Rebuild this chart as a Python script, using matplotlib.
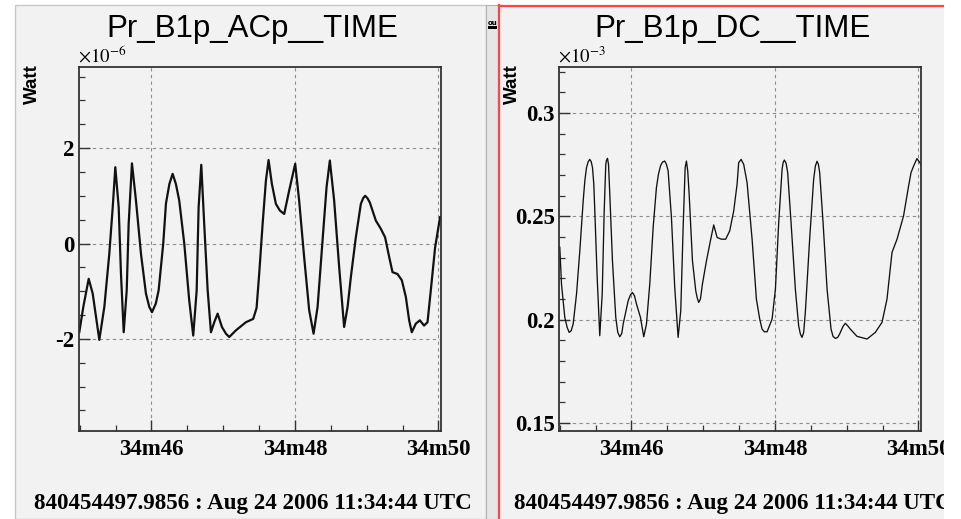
import matplotlib
matplotlib.use("Agg")
import matplotlib.pyplot as plt
from matplotlib.patches import Rectangle
from matplotlib.lines import Line2D
from matplotlib.ticker import MultipleLocator, FixedLocator, FuncFormatter

# ---------------- data ----------------
# Left: Pr_B1p_ACp__TIME (seconds after 11:34:00, Watt x1e-6)
ac_t = [44.994, 45.050, 45.125, 45.181, 45.273, 45.343, 45.412, 45.460, 45.496, 45.543,
        45.575, 45.613, 45.655, 45.682, 45.728, 45.784, 45.854, 45.923, 45.970, 46.007,
        46.060, 46.100, 46.164, 46.202, 46.250, 46.295, 46.340, 46.387, 46.457, 46.526,
        46.582, 46.630, 46.657, 46.694, 46.735, 46.783, 46.829, 46.875, 46.922, 46.982,
        47.038, 47.084, 47.177, 47.316, 47.418, 47.465, 47.501, 47.549, 47.595, 47.632,
        47.678, 47.734, 47.790, 47.850, 47.919, 48.003, 48.058, 48.128, 48.198, 48.259,
        48.315, 48.384, 48.440, 48.486, 48.546, 48.616, 48.685, 48.733, 48.779, 48.848,
        48.918, 48.950, 48.978, 49.010, 49.043, 49.127, 49.196, 49.256, 49.304, 49.359,
        49.429, 49.489, 49.545, 49.591, 49.628, 49.684, 49.740, 49.799, 49.847, 49.893,
        49.953, 50.022]
ac_w = [-1.86, -1.33, -0.74, -1.05, -2.02, -1.33, -0.22, 0.76, 1.60, 0.76,
        -0.64, -1.86, -0.98, 0.41, 1.68, 0.90, -0.22, -1.05, -1.33, -1.44,
        -1.26, -0.98, 0.00, 0.84, 1.25, 1.46, 1.25, 0.90, 0.00, -1.19,
        -1.93, -0.98, 0.76, 1.65, 0.41, -0.98, -1.86, -1.65, -1.47, -1.75,
        -1.89, -1.96, -1.82, -1.65, -1.58, -1.35, -0.64, 0.41, 1.32, 1.75,
        1.25, 0.83, 0.69, 0.62, 1.11, 1.67, 0.90, -0.29, -1.40, -1.89,
        -1.33, 0.06, 1.18, 1.74, 0.90, -0.50, -1.75, -1.33, -0.70, 0.13,
        0.83, 0.95, 1.00, 0.95, 0.86, 0.48, 0.31, 0.13, -0.22, -0.60,
        -0.64, -0.77, -1.12, -1.61, -1.86, -1.68, -1.61, -1.72, -1.65, -0.98,
        -0.08, 0.55]

# Right: Pr_B1p_DC__TIME (seconds after 11:34:00, Watt x1e-3)
dc_t = [45.001, 45.025, 45.071, 45.104, 45.132, 45.160, 45.188, 45.234, 45.280, 45.327,
        45.350, 45.373, 45.397, 45.419, 45.439, 45.457, 45.475, 45.489, 45.522, 45.558,
        45.592, 45.620, 45.642, 45.652, 45.666, 45.680, 45.698, 45.735, 45.781, 45.809,
        45.837, 45.865, 45.884, 45.954, 45.986, 46.014, 46.042, 46.070, 46.125, 46.171,
        46.209, 46.255, 46.302, 46.348, 46.376, 46.404, 46.432, 46.464, 46.487, 46.511,
        46.557, 46.603, 46.650, 46.687, 46.720, 46.748, 46.766, 46.784, 46.804, 46.850,
        46.896, 46.915, 46.937, 46.961, 46.989, 47.045, 47.100, 47.146, 47.194, 47.253,
        47.313, 47.369, 47.425, 47.472, 47.494, 47.528, 47.564, 47.611, 47.681, 47.741,
        47.787, 47.820, 47.852, 47.890, 47.960, 48.006, 48.052, 48.099, 48.113, 48.131,
        48.155, 48.177, 48.224, 48.284, 48.330, 48.354, 48.377, 48.400, 48.423, 48.483,
        48.539, 48.563, 48.586, 48.605, 48.623, 48.670, 48.726, 48.781, 48.809, 48.841,
        48.874, 48.901, 48.948, 48.981, 49.013, 49.050, 49.143, 49.283, 49.398, 49.492,
        49.561, 49.631, 49.701, 49.792, 49.862, 49.896, 49.932, 49.979, 50.035]
dc_w = [0.235, 0.217, 0.201, 0.1962, 0.1938, 0.1946, 0.198, 0.2123, 0.2332, 0.2574,
        0.2671, 0.2735, 0.2764, 0.2775, 0.2764, 0.2735, 0.2655, 0.2526, 0.2204, 0.1922,
        0.2123, 0.2526, 0.2751, 0.2771, 0.278, 0.2751, 0.2606, 0.2284, 0.2011, 0.1938,
        0.1917, 0.1933, 0.1978, 0.2091, 0.2120, 0.2131, 0.2115, 0.2075, 0.2011, 0.1917,
        0.1978, 0.2172, 0.2445, 0.2639, 0.2703, 0.2743, 0.2762, 0.2767, 0.2751, 0.2719,
        0.2494, 0.2155, 0.1914, 0.2043, 0.2445, 0.2735, 0.2767, 0.2719, 0.2606, 0.2284,
        0.2139, 0.2107, 0.2083, 0.2099, 0.2172, 0.2284, 0.2381, 0.2458, 0.2397, 0.2389,
        0.2389, 0.2429, 0.2526, 0.2655, 0.2759, 0.2775, 0.2751, 0.2663, 0.2389, 0.2099,
        0.2003, 0.1954, 0.1941, 0.1941, 0.2003, 0.2147, 0.247, 0.2727, 0.2759, 0.2772,
        0.2756, 0.2711, 0.247, 0.2147, 0.197, 0.1930, 0.1914, 0.1938, 0.2035, 0.2389,
        0.2679, 0.2743, 0.2766, 0.2751, 0.2711, 0.247, 0.2147, 0.1954, 0.1919, 0.1909,
        0.1914, 0.193, 0.1967, 0.1982, 0.1970, 0.1954, 0.1919, 0.1906, 0.1938, 0.1987,
        0.2099, 0.2325, 0.2389, 0.2502, 0.2646, 0.2711, 0.2743, 0.2779, 0.2751]

x_ticks = [46, 48, 50]
x_labels = ["34m46", "34m48", "34m50"]
titles = ["Pr_B1p_ACp__TIME", "Pr_B1p_DC__TIME"]
exponents = [r"$\times10^{-6}$", r"$\times10^{-3}$"]
stamp = "840454497.9856 : Aug 24 2006 11:34:44 UTC"

# ---------------- figure ----------------
plt.rcParams['mathtext.fontset'] = 'stix'
W, H = 962, 519
fig = plt.figure(figsize=(W / 100, H / 100), dpi=100)
fig.patch.set_facecolor('white')

def fx(px):
    return px / W

def fy(py):
    return 1 - py / H

panel_c = '#f2f2f2'
# left pad
fig.patches.append(Rectangle((fx(15), 0), fx(471), fy(5), transform=fig.transFigure,
                             facecolor=panel_c, edgecolor='#c8c8c8', lw=1, zorder=-5))
# separator strip
fig.patches.append(Rectangle((fx(486), 0), fx(12), fy(5), transform=fig.transFigure,
                             facecolor='#e6e6e6', edgecolor='#b0b0b0', lw=0.8, zorder=-5))
# right pad
fig.patches.append(Rectangle((fx(498), 0), fx(470), fy(5), transform=fig.transFigure,
                             facecolor=panel_c, edgecolor='none', zorder=-5))
red = '#ff4444'
fig.add_artist(Line2D([fx(499), fx(499)], [0, fy(5)], transform=fig.transFigure,
                      color=red, lw=1.6, zorder=1))
fig.add_artist(Line2D([fx(499), fx(968)], [fy(5.5), fy(5.5)], transform=fig.transFigure,
                      color=red, lw=1.6, zorder=1))
fig.text(fx(488), fy(25), "ou", fontsize=5, fontweight='bold', color='black',
         family='DejaVu Sans')
fig.patches.append(Rectangle((fx(487.5), fy(29)), fx(9), 2.5 / H, transform=fig.transFigure,
                             facecolor='black', edgecolor='none', zorder=2))

serif = 'Liberation Serif'
sans = 'Liberation Sans'

specs = [
    dict(left=79, t=ac_t, w=ac_w, ylim=(-3.93, 3.7), yt=[-2, 0, 2], ymin=0.5,
         lw=1.6, fmt=lambda v, p: "%d" % round(v), center=252.5, watt_x=32),
    dict(left=559, t=dc_t, w=dc_w, ylim=(0.1461, 0.3222), yt=[0.15, 0.2, 0.25, 0.3], ymin=0.01,
         lw=0.95, fmt=lambda v, p: "%g" % round(v, 3), center=732.5, watt_x=512),
]

for i, s in enumerate(specs):
    ax = fig.add_axes([fx(s['left']), fy(431), fx(362), 364 / H])
    ax.set_facecolor(panel_c)
    ax.plot(s['t'], s['w'], color='#111111', lw=s['lw'], solid_joinstyle='round')
    ax.set_xlim(44.99, 50.035)
    ax.set_ylim(*s['ylim'])
    ax.xaxis.set_major_locator(FixedLocator(x_ticks))
    ax.set_xticklabels(x_labels)
    ax.xaxis.set_minor_locator(MultipleLocator(0.5))
    ax.yaxis.set_major_locator(FixedLocator(s['yt']))
    ax.yaxis.set_major_formatter(FuncFormatter(s['fmt']))
    ax.yaxis.set_minor_locator(MultipleLocator(s['ymin']))
    ax.tick_params(which='both', direction='in', top=False, right=False, color='#333333')
    ax.tick_params(which='major', length=8, width=1.0, pad=3)
    ax.tick_params(which='minor', length=4.5, width=0.9)
    ax.tick_params(axis='x', which='major', pad=6)
    for lbl in ax.get_xticklabels() + ax.get_yticklabels():
        lbl.set_family(serif)
        lbl.set_fontweight('bold')
        lbl.set_fontsize(16.5)
    ax.grid(True, which='major', color='#8c8c8c', lw=0.8, linestyle=(0, (3, 3)))
    for sp in ax.spines.values():
        sp.set_color('#333333')
        sp.set_linewidth(1.3)
    # title
    fig.text(fx(s['center']), fy(37), titles[i], ha='center', va='baseline',
             fontsize=22.5, family=sans, color='black')
    # exponent
    fig.text(fx(s['left'] - 1), fy(63), exponents[i], ha='left', va='baseline',
             fontsize=13.5, color='black')
    # y label
    fig.text(fx(s['watt_x']), fy(84), "Watt", rotation=90, ha='center', va='center',
             fontsize=13.5, fontweight='bold', family=sans, color='black')
    # time stamp
    fig.text(fx(s['center']), fy(509), stamp, ha='center', va='baseline',
             fontsize=16.6, fontweight='bold', family=serif, color='black')

# clip region beyond the right pad
fig.add_artist(Rectangle((fx(944), 0), fx(30), 1, transform=fig.transFigure,
                         facecolor='white', edgecolor='none', zorder=20))

fig.savefig("out.png", dpi=100)
